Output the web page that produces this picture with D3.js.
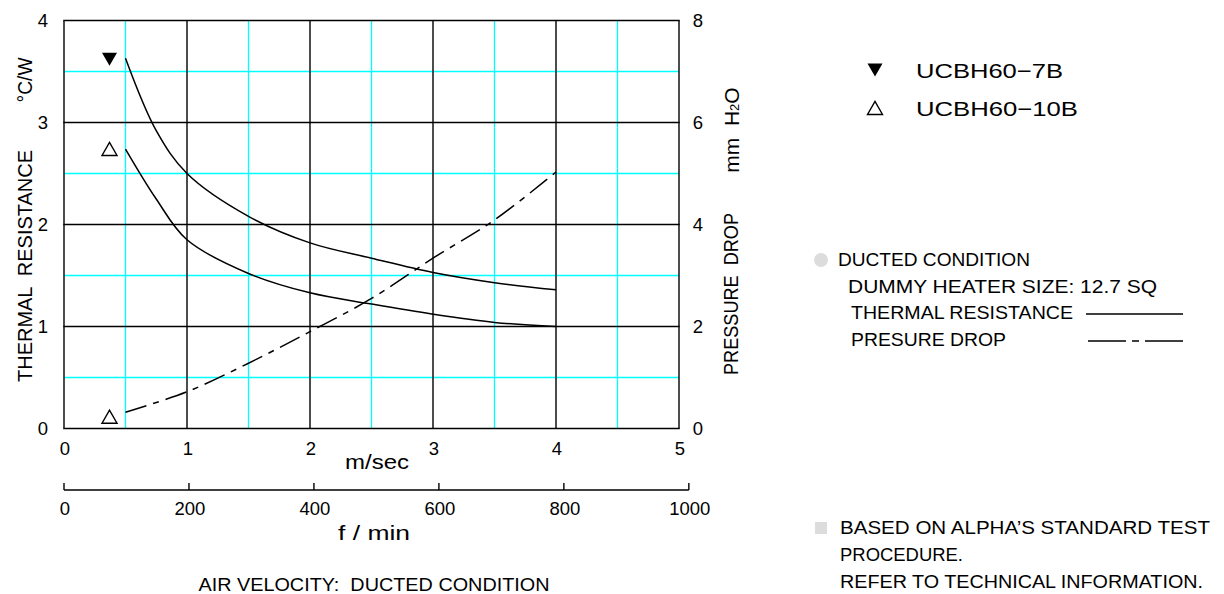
<!DOCTYPE html>
<html>
<head>
<meta charset="utf-8">
<script src="https://cdn.jsdelivr.net/npm/d3@7"></script>
<style>
html,body{margin:0;padding:0;background:#fff;}
svg{display:block;}
text{font-family:"Liberation Sans",Arial,sans-serif;fill:#000;white-space:pre;}
</style>
</head>
<body>
<svg id="chart" width="1224" height="594"></svg>
<script>
// ---------- data ----------
const velocity = [0.5, 0.75, 1, 1.5, 2, 2.5, 3, 3.5, 4];          // m/sec
const thermal7B = [3.63, 2.92, 2.50, 2.08, 1.82, 1.67, 1.53, 1.43, 1.36]; // °C/W
const thermal10B = [2.74, 2.25, 1.85, 1.52, 1.33, 1.22, 1.12, 1.04, 1.00]; // °C/W
const pressureVelocity = [0.5, 1, 1.5, 2, 2.5, 3, 3.5, 4];        // m/sec
const pressureDrop = [0.32, 0.72, 1.28, 1.90, 2.55, 3.34, 4.09, 5.03]; // mm H2O
const markerX = 0.37;
const marker7B = 3.62, marker10B = 2.74, markerPressure = 0.23;
const xTicks = [0, 1, 2, 3, 4, 5];
const yLeftTicks = [0, 1, 2, 3, 4];
const yRightTicks = [0, 2, 4, 6, 8];
const fpmTicks = [0, 200, 400, 600, 800, 1000];
const seriesNames = ["UCBH60−7B", "UCBH60−10B"];

// ---------- scales ----------
const svg = d3.select("#chart");
const x = d3.scaleLinear().domain([0, 5]).range([64, 679]);
const yL = d3.scaleLinear().domain([0, 4]).range([428.5, 20.5]);
const yR = d3.scaleLinear().domain([0, 8]).range([428.5, 20.5]);
const FPM_PER_MS = 196.85;
const xf = d3.scaleLinear().domain([0, 1000]).range([x(0), x(1000 / FPM_PER_MS)]);

// ---------- grid ----------
const g = svg.append("g");
const halfX = d3.range(0.5, 5, 1), halfY = d3.range(0.5, 4, 1);
g.selectAll(".cx").data(halfX).join("line")
  .attr("x1", d => x(d)).attr("x2", d => x(d)).attr("y1", yL(0)).attr("y2", yL(4))
  .attr("stroke", "#00ffff").attr("stroke-width", 1.3);
g.selectAll(".cy").data(halfY).join("line")
  .attr("y1", d => yL(d)).attr("y2", d => yL(d)).attr("x1", x(0)).attr("x2", x(5))
  .attr("stroke", "#00ffff").attr("stroke-width", 1.3);
g.selectAll(".bx").data(xTicks).join("line")
  .attr("x1", d => x(d)).attr("x2", d => x(d)).attr("y1", yL(0)).attr("y2", yL(4))
  .attr("stroke", "#000").attr("stroke-width", 1.4);
g.selectAll(".by").data(yLeftTicks).join("line")
  .attr("y1", d => yL(d)).attr("y2", d => yL(d)).attr("x1", x(0) - 0.7).attr("x2", x(5) + 0.7)
  .attr("stroke", "#000").attr("stroke-width", 1.4);

// ---------- tick labels ----------
const fs = 18.5;
svg.selectAll(".yl").data(yLeftTicks).join("text")
  .attr("x", 43).attr("y", d => yL(d)).attr("dy", "0.36em")
  .attr("text-anchor", "middle").attr("font-size", fs).text(d => d);
svg.selectAll(".yr").data(yRightTicks).join("text")
  .attr("x", 698).attr("y", d => yR(d)).attr("dy", "0.36em")
  .attr("text-anchor", "middle").attr("font-size", fs).text(d => d);
svg.selectAll(".xl").data(xTicks).join("text")
  .attr("x", d => x(d) + 1).attr("y", 448).attr("dy", "0.36em")
  .attr("text-anchor", "middle").attr("font-size", fs).text(d => d);
svg.append("text").attr("x", 377).attr("y", 462).attr("dy", "0.36em")
  .attr("text-anchor", "middle").attr("font-size", 19.5)
  .attr("textLength", 64).attr("lengthAdjust", "spacingAndGlyphs").text("m/sec");

// second (f/min) axis
const fAxis = svg.append("g").attr("transform", "translate(0,490)");
fAxis.append("line").attr("x1", xf(0)).attr("x2", xf(1000)).attr("stroke", "#000").attr("stroke-width", 1.4);
fAxis.selectAll(".ft").data(fpmTicks).join("line")
  .attr("x1", d => xf(d)).attr("x2", d => xf(d)).attr("y1", 0).attr("y2", -7)
  .attr("stroke", "#000").attr("stroke-width", 1.4);
fAxis.selectAll(".fl").data(fpmTicks).join("text")
  .attr("x", d => xf(d) + 1).attr("y", 18).attr("dy", "0.36em")
  .attr("text-anchor", "middle").attr("font-size", fs).text(d => d);
svg.append("text").attr("x", 374).attr("y", 533).attr("dy", "0.36em")
  .attr("text-anchor", "middle").attr("font-size", 19.5)
  .attr("textLength", 72).attr("lengthAdjust", "spacingAndGlyphs").text("f / min");
svg.append("text").attr("x", 374).attr("y", 584).attr("dy", "0.36em")
  .attr("text-anchor", "middle").attr("font-size", 18.5)
  .attr("textLength", 351).attr("lengthAdjust", "spacingAndGlyphs")
  .text("AIR VELOCITY:  DUCTED CONDITION");

// axis titles
svg.append("text").attr("transform", "translate(25,266) rotate(-90)")
  .attr("text-anchor", "middle").attr("dy", "0.36em").attr("font-size", 20)
  .attr("textLength", 232).attr("lengthAdjust", "spacingAndGlyphs").text("THERMAL  RESISTANCE");
svg.append("text").attr("transform", "translate(25,80) rotate(-90)")
  .attr("text-anchor", "middle").attr("dy", "0.36em").attr("font-size", 20)
  .attr("textLength", 45).attr("lengthAdjust", "spacingAndGlyphs").text("°C/W");
svg.append("text").attr("transform", "translate(731,294) rotate(-90)")
  .attr("text-anchor", "middle").attr("dy", "0.36em").attr("font-size", 20)
  .attr("textLength", 162).attr("lengthAdjust", "spacingAndGlyphs").text("PRESSURE  DROP");
const mm = svg.append("text").attr("transform", "translate(731,130) rotate(-90)")
  .attr("text-anchor", "middle").attr("dy", "0.36em").attr("font-size", 21);
mm.append("tspan").text("mm  H");
mm.append("tspan").attr("font-size", 13).text("2");
mm.append("tspan").text("O");

// ---------- curves ----------
const lineL = d3.line().curve(d3.curveCatmullRom.alpha(0.5)).x(d => x(d[0])).y(d => yL(d[1]));
const lineR = d3.line().curve(d3.curveCatmullRom.alpha(0.5)).x(d => x(d[0])).y(d => yR(d[1]));
svg.append("path").datum(d3.zip(velocity, thermal7B)).attr("d", lineL)
  .attr("fill", "none").attr("stroke", "#000").attr("stroke-width", 1.5);
svg.append("path").datum(d3.zip(velocity, thermal10B)).attr("d", lineL)
  .attr("fill", "none").attr("stroke", "#000").attr("stroke-width", 1.5);
svg.append("path").datum(d3.zip(pressureVelocity, pressureDrop)).attr("d", lineR)
  .attr("fill", "none").attr("stroke", "#000").attr("stroke-width", 1.5)
  .attr("stroke-dasharray", "22,7,6,7");

// ---------- markers ----------
function tri(cx, cy, down) {
  const w = 7.5, h = 6.5;
  return down
    ? `M${cx - w},${cy - h}L${cx + w},${cy - h}L${cx},${cy + h}Z`
    : `M${cx - w},${cy + h}L${cx + w},${cy + h}L${cx},${cy - h}Z`;
}
svg.append("path").attr("d", tri(x(markerX), yL(marker7B), true)).attr("fill", "#000");
svg.append("path").attr("d", tri(x(markerX), yL(marker10B), false))
  .attr("fill", "#fff").attr("stroke", "#000").attr("stroke-width", 1.4);
svg.append("path").attr("d", tri(x(markerX), yR(markerPressure), false))
  .attr("fill", "#fff").attr("stroke", "#000").attr("stroke-width", 1.4);

// ---------- legend ----------
const leg = svg.append("g");
leg.append("path").attr("d", tri(875, 70, true)).attr("fill", "#000");
leg.append("path").attr("d", tri(875, 108, false)).attr("fill", "#fff").attr("stroke", "#000").attr("stroke-width", 1.4);
leg.selectAll(".lt").data(seriesNames).join("text")
  .attr("x", 916).attr("y", (d, i) => 70 + i * 38).attr("dy", "0.36em")
  .attr("font-size", 21)
  .attr("textLength", (d, i) => i === 0 ? 147 : 162).attr("lengthAdjust", "spacingAndGlyphs")
  .text(d => d);

// ---------- notes ----------
svg.append("circle").attr("cx", 821).attr("cy", 260).attr("r", 7).attr("fill", "#dcdcdc");
const notes1 = [
  {t: "DUCTED CONDITION", x: 838, y: 260, w: 192},
  {t: "DUMMY HEATER SIZE: 12.7 SQ", x: 848, y: 287, w: 309},
  {t: "THERMAL RESISTANCE", x: 851, y: 313, w: 222},
  {t: "PRESURE DROP", x: 851, y: 340, w: 155}
];
svg.selectAll(".n1").data(notes1).join("text")
  .attr("x", d => d.x).attr("y", d => d.y).attr("dy", "0.36em").attr("font-size", 18)
  .attr("textLength", d => d.w).attr("lengthAdjust", "spacingAndGlyphs").text(d => d.t);
svg.append("line").attr("x1", 1086).attr("x2", 1183).attr("y1", 314).attr("y2", 314)
  .attr("stroke", "#000").attr("stroke-width", 1.4);
svg.append("line").attr("x1", 1088).attr("x2", 1183).attr("y1", 341).attr("y2", 341)
  .attr("stroke", "#000").attr("stroke-width", 1.4).attr("stroke-dasharray", "38,6,7,6,38");

svg.append("rect").attr("x", 815).attr("y", 522).attr("width", 12).attr("height", 12).attr("fill", "#dcdcdc");
const notes2 = [
  {t: "BASED ON ALPHA’S STANDARD TEST", x: 840, y: 528, w: 370},
  {t: "PROCEDURE.", x: 840, y: 555, w: 123},
  {t: "REFER TO TECHNICAL INFORMATION.", x: 840, y: 582, w: 363}
];
svg.selectAll(".n2").data(notes2).join("text")
  .attr("x", d => d.x).attr("y", d => d.y).attr("dy", "0.36em").attr("font-size", 18)
  .attr("textLength", d => d.w).attr("lengthAdjust", "spacingAndGlyphs").text(d => d.t);
</script>
</body>
</html>
